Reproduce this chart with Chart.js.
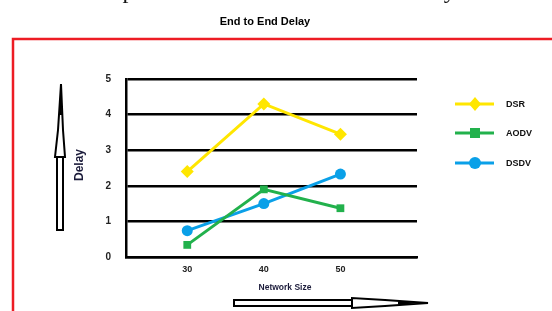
<!DOCTYPE html>
<html lang="en">
<head>
    <meta charset="UTF-8">
    <title>End to End Delay</title>
    <style>
        html, body { margin: 0; padding: 0; background: #ffffff; overflow: hidden; }
        #wrap { position: relative; width: 552px; height: 311px; }
    </style>
    <script src="https://cdn.jsdelivr.net/npm/chart.js"></script>
</head>
<body>
    <div id="wrap"><canvas id="chartDelay" width="552" height="311"></canvas></div>
    <script>
        // dados
        const networkSizes = [30, 40, 50];
        const dsrDelay = [2.4, 4.3, 3.45];
        const aodvDelay = [0.34, 1.9, 1.37];
        const dsdvDelay = [0.74, 1.5, 2.33];
        const seriesNames = ['DSR', 'AODV', 'DSDV'];

        const toPoints = arr => arr.map((v, i) => ({ x: networkSizes[i], y: v }));

        // desenha o texto cortado no topo, borda vermelha, setas, titulos e legenda
        const decorPlugin = {
            id: 'decor',
            afterDraw(chart) {
                const ctx = chart.ctx;
                ctx.save();

                // texto do documento cortado
                ctx.fillStyle = '#111';
                ctx.font = '24px "Liberation Serif", serif';
                ctx.textAlign = 'center';
                ctx.textBaseline = 'alphabetic';
                ctx.fillText('Comparison based on End to End delay.', 268, -2);

                // titulo
                ctx.font = 'bold 11px Arial, "Liberation Sans", sans-serif';
                ctx.fillStyle = '#000';
                ctx.textBaseline = 'middle';
                ctx.fillText('End to End Delay', 265, 22);

                // borda vermelha
                ctx.strokeStyle = '#ED1C24';
                ctx.lineWidth = 2.5;
                ctx.beginPath();
                ctx.moveTo(13, 311);
                ctx.lineTo(13, 39);
                ctx.lineTo(552, 39);
                ctx.stroke();

                // seta para cima
                ctx.strokeStyle = '#000';
                ctx.lineWidth = 2;
                ctx.fillStyle = '#fff';
                ctx.beginPath();
                ctx.rect(57, 157, 6, 73);
                ctx.fill();
                ctx.stroke();
                ctx.beginPath();
                ctx.moveTo(55, 157);
                ctx.lineTo(65, 157);
                ctx.lineTo(63, 130);
                ctx.lineTo(61, 84);
                ctx.lineTo(58, 130);
                ctx.closePath();
                ctx.fill();
                ctx.stroke();
                ctx.fillStyle = '#000';
                ctx.beginPath();
                ctx.moveTo(59, 115);
                ctx.lineTo(62, 115);
                ctx.lineTo(61, 84);
                ctx.closePath();
                ctx.fill();

                // seta para direita
                ctx.fillStyle = '#fff';
                ctx.beginPath();
                ctx.rect(234, 300, 118, 6);
                ctx.fill();
                ctx.stroke();
                ctx.beginPath();
                ctx.moveTo(352, 298);
                ctx.lineTo(352, 308);
                ctx.lineTo(385, 306);
                ctx.lineTo(428, 303);
                ctx.lineTo(385, 300);
                ctx.closePath();
                ctx.fill();
                ctx.stroke();
                ctx.fillStyle = '#000';
                ctx.beginPath();
                ctx.moveTo(398, 301.5);
                ctx.lineTo(398, 304.5);
                ctx.lineTo(428, 303);
                ctx.closePath();
                ctx.fill();

                // titulo eixo y
                ctx.save();
                ctx.translate(80, 165);
                ctx.rotate(-Math.PI / 2);
                ctx.fillStyle = '#1b1b3a';
                ctx.font = 'bold 12px Arial, "Liberation Sans", sans-serif';
                ctx.fillText('Delay', 0, 0);
                ctx.restore();

                // titulo eixo x
                ctx.fillStyle = '#1b1b3a';
                ctx.font = 'bold 8.5px Arial, "Liberation Sans", sans-serif';
                ctx.fillText('Network Size', 285, 288);

                // legenda
                const legendY = [104, 133, 163];
                chart.data.datasets.forEach((ds, i) => {
                    const y = legendY[i];
                    ctx.strokeStyle = ds.borderColor;
                    ctx.fillStyle = ds.borderColor;
                    ctx.lineWidth = 3;
                    ctx.beginPath();
                    ctx.moveTo(455, y);
                    ctx.lineTo(494, y);
                    ctx.stroke();
                    const cx = 475, r = 6;
                    ctx.beginPath();
                    if (ds.pointStyle === 'rectRot') {
                        ctx.moveTo(cx, y - r - 1);
                        ctx.lineTo(cx + r, y);
                        ctx.lineTo(cx, y + r + 1);
                        ctx.lineTo(cx - r, y);
                        ctx.closePath();
                    } else if (ds.pointStyle === 'rect') {
                        ctx.rect(cx - 5, y - 5, 10, 10);
                    } else {
                        ctx.arc(cx, y, r, 0, Math.PI * 2);
                    }
                    ctx.fill();
                    ctx.fillStyle = '#111';
                    ctx.textAlign = 'left';
                    ctx.font = 'bold 9px Arial, "Liberation Sans", sans-serif';
                    ctx.fillText(ds.label, 506, y + 1);
                });

                ctx.restore();
            }
        };

        const ctxDelay = document.getElementById('chartDelay').getContext('2d');
        new Chart(ctxDelay, {
            type: 'line',
            data: {
                datasets: [
                    {
                        label: seriesNames[0],
                        data: toPoints(dsrDelay),
                        borderColor: '#FFE600',
                        backgroundColor: '#FFE600',
                        pointStyle: 'rectRot',
                        pointRadius: 6.5
                    },
                    {
                        label: seriesNames[1],
                        data: toPoints(aodvDelay),
                        borderColor: '#22B14C',
                        backgroundColor: '#22B14C',
                        pointStyle: 'rect',
                        pointRadius: 5.5
                    },
                    {
                        label: seriesNames[2],
                        data: toPoints(dsdvDelay),
                        borderColor: '#0AA0E8',
                        backgroundColor: '#0AA0E8',
                        pointStyle: 'circle',
                        pointRadius: 5.5
                    }
                ]
            },
            options: {
                responsive: false,
                animation: false,
                elements: {
                    line: { borderWidth: 3, tension: 0 },
                    point: { borderWidth: 0 }
                },
                layout: {
                    padding: { left: 86, top: 79, right: 135, bottom: 34 }
                },
                plugins: {
                    legend: { display: false },
                    tooltip: { enabled: false }
                },
                scales: {
                    x: {
                        type: 'linear',
                        min: 22,
                        max: 60,
                        afterBuildTicks: scale => {
                            scale.ticks = networkSizes.map(v => ({ value: v }));
                        },
                        afterFit: scale => { scale.height = 20; },
                        grid: { drawOnChartArea: false, drawTicks: false },
                        border: { color: '#000', width: 2.5 },
                        ticks: {
                            color: '#222',
                            padding: 7,
                            font: { family: 'Arial', size: 9, weight: 'bold' }
                        }
                    },
                    y: {
                        min: 0,
                        max: 5,
                        afterFit: scale => { scale.width = 40; },
                        grid: { color: '#000', lineWidth: 2.5, drawTicks: false },
                        border: { color: '#000', width: 2.5 },
                        ticks: {
                            stepSize: 1,
                            color: '#222',
                            padding: 15,
                            font: { family: 'Arial', size: 10, weight: 'bold' }
                        }
                    }
                }
            },
            plugins: [decorPlugin]
        });
    </script>
</body>
</html>
